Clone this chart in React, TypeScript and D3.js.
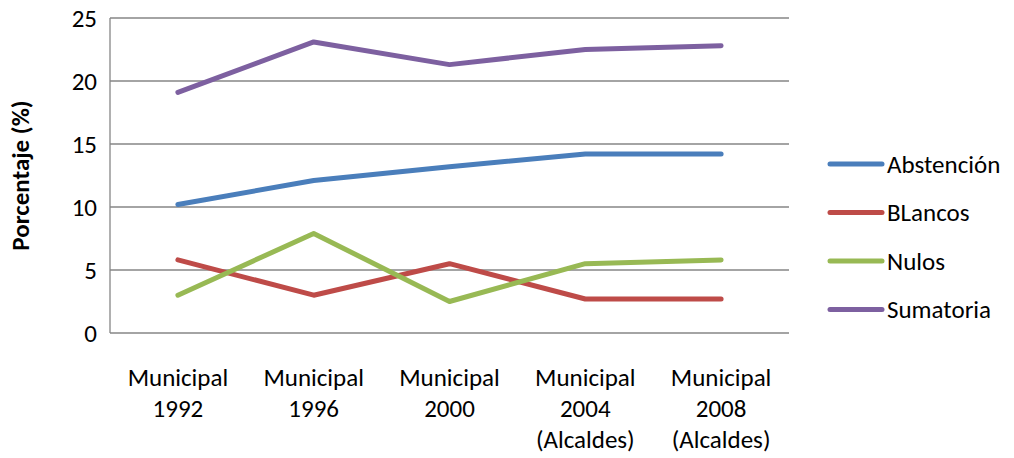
import { useEffect, useRef } from 'react';
import * as d3 from 'd3';

const categories = [
  ['Municipal', '1992'],
  ['Municipal', '1996'],
  ['Municipal', '2000'],
  ['Municipal', '2004', '(Alcaldes)'],
  ['Municipal', '2008', '(Alcaldes)'],
];
const abstencion = [10.2, 12.1, 13.2, 14.2, 14.2];
const blancos = [5.8, 3.0, 5.5, 2.7, 2.7];
const nulos = [3.0, 7.9, 2.5, 5.5, 5.8];
const sumatoria = [19.1, 23.1, 21.3, 22.5, 22.8];
const yTicks = [0, 5, 10, 15, 20, 25];

const series = [
  { name: 'Abstención', values: abstencion, color: '#4A7EBB' },
  { name: 'BLancos', values: blancos, color: '#BE4B48' },
  { name: 'Nulos', values: nulos, color: '#98B954' },
  { name: 'Sumatoria', values: sumatoria, color: '#7D60A0' },
];

export default function App() {
  const svgRef = useRef<SVGSVGElement>(null);

  useEffect(() => {
    if (!svgRef.current) return;
    const svg = d3.select(svgRef.current);
    svg.selectAll('*').remove();

    const left = 110;
    const right = 789;
    const top = 18;
    const bottom = 333;
    const font = 'Carlito, Calibri, Lato, sans-serif';
    const fs = 25;

    const x = d3.scaleBand<number>()
      .domain(d3.range(categories.length))
      .range([left, right]);
    const cx = (i: number) => (x(i) || 0) + x.bandwidth() / 2;

    const y = d3.scaleLinear().domain([0, 25]).range([bottom, top]);

    // gridlines
    svg.append('g')
      .selectAll('line')
      .data(yTicks)
      .enter()
      .append('line')
      .attr('x1', left)
      .attr('x2', right)
      .attr('y1', d => y(d))
      .attr('y2', d => y(d))
      .attr('stroke', '#868686')
      .attr('stroke-width', 1.3);

    // y axis line
    svg.append('line')
      .attr('x1', left)
      .attr('x2', left)
      .attr('y1', top)
      .attr('y2', bottom)
      .attr('stroke', '#868686')
      .attr('stroke-width', 1.3);

    // y tick labels
    svg.append('g')
      .selectAll('text')
      .data(yTicks)
      .enter()
      .append('text')
      .attr('x', 97)
      .attr('y', d => y(d))
      .attr('dy', '0.35em')
      .attr('text-anchor', 'end')
      .attr('font-family', font)
      .attr('font-size', fs)
      .attr('fill', '#000')
      .text(d => d);

    // category labels
    const cat = svg.append('g')
      .selectAll('text')
      .data(categories)
      .enter()
      .append('text')
      .attr('x', (_, i) => cx(i))
      .attr('y', 386)
      .attr('text-anchor', 'middle')
      .attr('font-family', font)
      .attr('font-size', fs)
      .attr('fill', '#000');
    cat.selectAll('tspan')
      .data((d, i) => d.map(s => ({ s, i })))
      .enter()
      .append('tspan')
      .attr('x', d => cx(d.i))
      .attr('dy', (_, j) => (j === 0 ? 0 : 31))
      .text(d => d.s);

    // y axis title
    svg.append('text')
      .attr('transform', `translate(29,${(top + bottom) / 2}) rotate(-90)`)
      .attr('text-anchor', 'middle')
      .attr('font-family', font)
      .attr('font-size', fs)
      .attr('font-weight', 'bold')
      .attr('fill', '#000')
      .text('Porcentaje (%)');

    // lines
    const line = d3.line<number>()
      .x((_, i) => cx(i))
      .y(d => y(d));

    svg.append('g')
      .selectAll('path')
      .data(series)
      .enter()
      .append('path')
      .attr('d', d => line(d.values))
      .attr('fill', 'none')
      .attr('stroke', d => d.color)
      .attr('stroke-width', 5)
      .attr('stroke-linecap', 'round')
      .attr('stroke-linejoin', 'round');

    // legend
    const legend = svg.append('g')
      .selectAll('g')
      .data(series)
      .enter()
      .append('g')
      .attr('transform', (_, i) => `translate(830,${164 + i * 48.5})`);
    legend.append('line')
      .attr('x1', 0)
      .attr('x2', 52)
      .attr('stroke', d => d.color)
      .attr('stroke-width', 5)
      .attr('stroke-linecap', 'round');
    legend.append('text')
      .attr('x', 57)
      .attr('dy', '0.35em')
      .attr('font-family', font)
      .attr('font-size', fs)
      .attr('fill', '#000')
      .text(d => d.name);
  }, []);

  return (
    <svg
      ref={svgRef}
      width={1014}
      height={458}
      style={{ position: 'absolute', left: 0, top: 0, background: '#fff' }}
    />
  );
}
